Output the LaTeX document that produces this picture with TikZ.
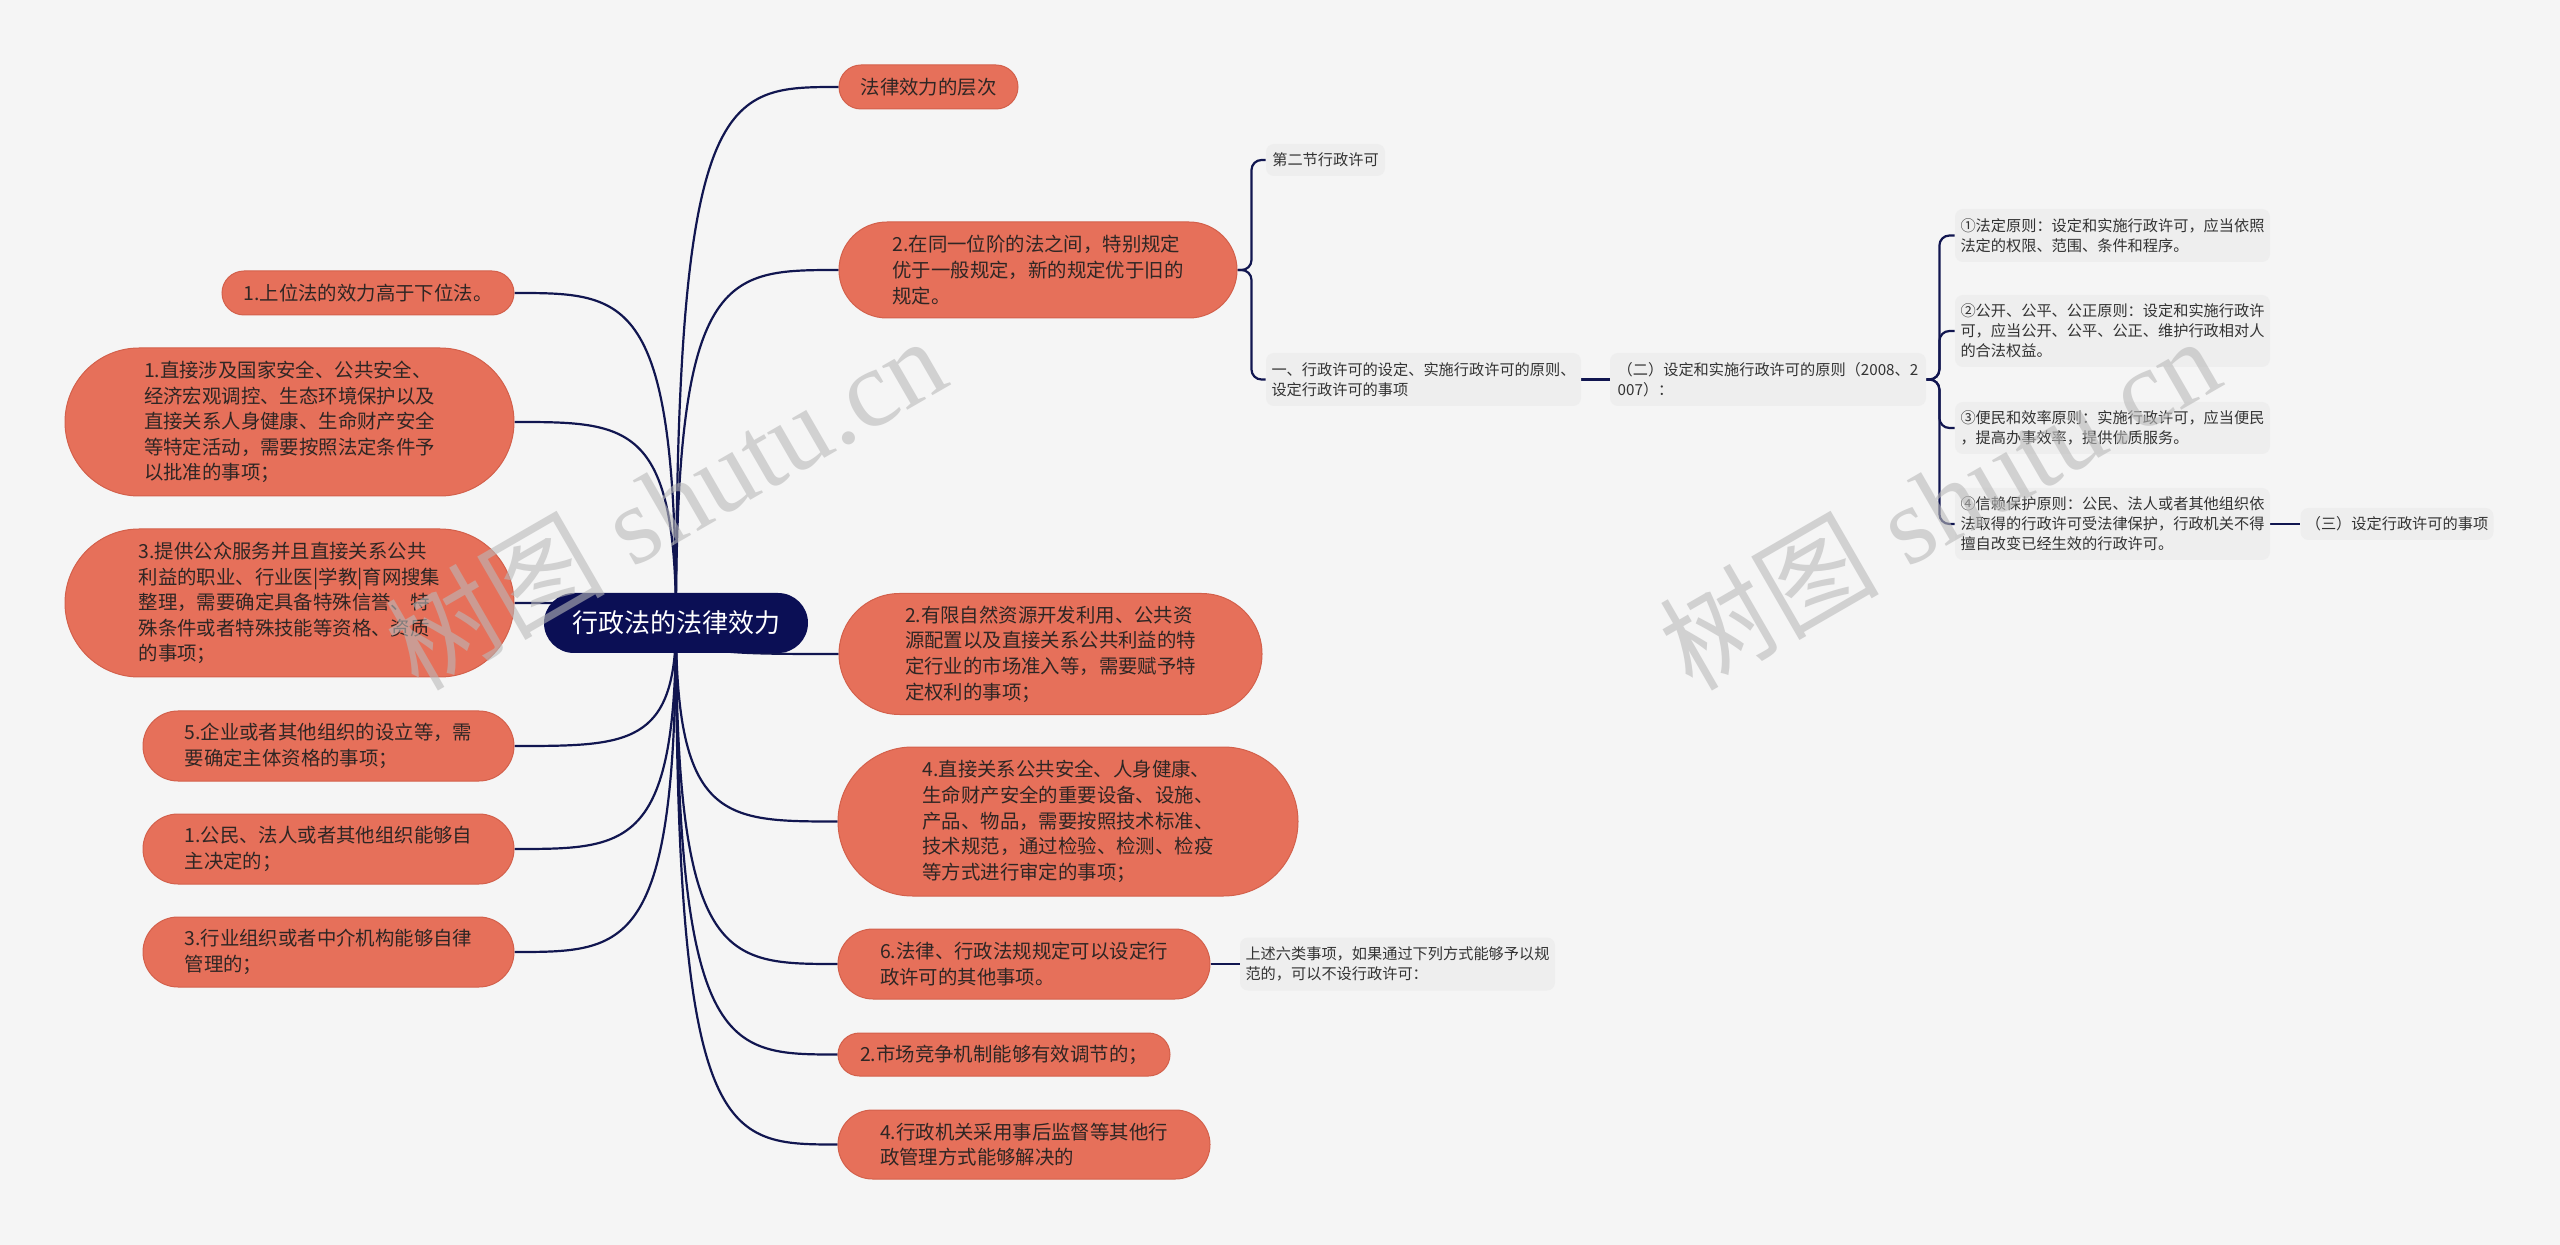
\documentclass[tikz,border=0pt]{standalone}
\usepackage{fontspec}
\setmainfont{Noto Sans CJK SC}
\newfontfamily\wmfont{Liberation Serif}
\newfontfamily\wmcjk{Noto Sans CJK SC}
\usetikzlibrary{calc,shapes.misc}
\definecolor{bgc}{HTML}{F5F5F5}
\definecolor{orf}{HTML}{E6705A}
\definecolor{ord}{HTML}{D3604B}
\definecolor{navy}{HTML}{0B0F55}
\definecolor{lnc}{HTML}{111650}
\definecolor{gyf}{HTML}{EEEEEE}
\definecolor{gyt}{HTML}{333333}
\definecolor{otx}{HTML}{2F2624}
\pgfdeclarelayer{bg}
\pgfdeclarelayer{lines}
\pgfsetlayers{bg,lines,main}
\tikzset{
 sz/.style 2 args={minimum width=#1*0.5pt, minimum height=#2*0.5pt},
 obox/.style={rounded rectangle, fill=orf, draw=ord, line width=0.5pt, inner sep=0pt, align=left, text=otx, font=\fontsize{9.7pt}{12.8pt}\selectfont},
 gbox/.style={rectangle, rounded corners=4pt, fill=gyf, inner sep=0pt, align=left, text=gyt, font=\fontsize{7.6pt}{10pt}\selectfont},
 cbox/.style={rounded rectangle, fill=navy, inner sep=0pt, text=white, font=\fontsize{13pt}{16pt}\selectfont},
 conn/.style={draw=lnc, line width=1.1pt},
 wm/.style={text=gray!55, opacity=0.6, rotate=30, inner sep=0pt, font={\fontsize{55pt}{60pt}\wmfont}}
}
\begin{document}
\begin{tikzpicture}[x=0.5pt,y=-0.5pt]
\begin{pgfonlayer}{bg}
\fill[bgc] (0,0) rectangle (2560,1245);
\end{pgfonlayer}
\useasboundingbox (0,0) rectangle (2560,1245);

% central
\node[cbox, sz={264}{60}] (C) at (676,623) {行政法的法律效力};

% left
\node[obox, sz={292}{44}] (L1) at (368,293) {1.上位法的效力高于下位法。};
\node[obox, sz={449}{148}] (L2) at (289.5,422) {1.直接涉及国家安全、公共安全、\\经济宏观调控、生态环境保护以及\\直接关系人身健康、生命财产安全\\等特定活动，需要按照法定条件予\\以批准的事项；};
\node[obox, sz={449}{148}] (L3) at (289.5,603) {3.提供公众服务并且直接关系公共\\利益的职业、行业医|学教|育网搜集\\整理，需要确定具备特殊信誉、特\\殊条件或者特殊技能等资格、资质\\的事项；};
\node[obox, sz={371}{70}] (L4) at (328.5,746) {5.企业或者其他组织的设立等，需\\要确定主体资格的事项；};
\node[obox, sz={371}{70}] (L5) at (328.5,849) {1.公民、法人或者其他组织能够自\\主决定的；};
\node[obox, sz={371}{70}] (L6) at (328.5,952) {3.行业组织或者中介机构能够自律\\管理的；};

% right
\node[obox, sz={179}{44}] (R1) at (928.5,87) {法律效力的层次};
\node[obox, sz={398}{96}] (R2) at (1038,270) {2.在同一位阶的法之间，特别规定\\优于一般规定，新的规定优于旧的\\规定。};
\node[obox, sz={423}{121}] (R3) at (1050.5,654) {2.有限自然资源开发利用、公共资\\源配置以及直接关系公共利益的特\\定行业的市场准入等，需要赋予特\\定权利的事项；};
\node[obox, sz={460}{149}] (R4) at (1068,821.5) {4.直接关系公共安全、人身健康、\\生命财产安全的重要设备、设施、\\产品、物品，需要按照技术标准、\\技术规范，通过检验、检测、检疫\\等方式进行审定的事项；};
\node[obox, sz={372}{70}] (R5) at (1024,964) {6.法律、行政法规规定可以设定行\\政许可的其他事项。};
\node[obox, sz={332}{43}] (R6) at (1004,1054.5) {2.市场竞争机制能够有效调节的；};
\node[obox, sz={372}{69}] (R7) at (1024,1144.5) {4.行政机关采用事后监督等其他行\\政管理方式能够解决的};

% gray boxes
\node[gbox, sz={119}{32}] (G1) at (1325.5,160) {第二节行政许可};
\node[gbox, sz={315}{53}] (G2) at (1423.5,379.5) {一、行政许可的设定、实施行政许可的原则、\\设定行政许可的事项};
\node[gbox, sz={316}{53}] (G3) at (1768,379.5) {（二）设定和实施行政许可的原则（2008、2\\007）：};
\node[gbox, sz={315}{53}] (G4) at (2112.5,235.5) {①法定原则：设定和实施行政许可，应当依照\\法定的权限、范围、条件和程序。};
\node[gbox, sz={315}{72}] (G5) at (2112.5,331) {②公开、公平、公正原则：设定和实施行政许\\可，应当公开、公平、公正、维护行政相对人\\的合法权益。};
\node[gbox, sz={315}{52}] (G6) at (2112.5,428) {③便民和效率原则：实施行政许可，应当便民\\，提高办事效率，提供优质服务。};
\node[gbox, sz={315}{72}] (G7) at (2112.5,524) {④信赖保护原则：公民、法人或者其他组织依\\法取得的行政许可受法律保护，行政机关不得\\擅自改变已经生效的行政许可。};
\node[gbox, sz={193}{32}] (G8) at (2397,524) {（三）设定行政许可的事项};
\node[gbox, sz={315}{53}] (G9) at (1397.5,964) {上述六类事项，如果通过下列方式能够予以规\\范的，可以不设行政许可：};

% connectors
\begin{pgfonlayer}{lines}
\foreach \n in {R1,R2,R3,R4,R5,R6,R7} {
  \draw[conn] (C.center) .. controls (C.center |- \n.west) and ($(C.center |- \n.west)!0.3!(\n.west)$) .. (\n.west);
}
\foreach \n in {L1,L2,L3,L4,L5,L6} {
  \draw[conn] (C.center) .. controls (C.center |- \n.east) and ($(C.center |- \n.east)!0.3!(\n.east)$) .. (\n.east);
}
\foreach \n in {G1,G2} {
  \draw[conn, rounded corners=5pt] (R2.east) -- ($(R2.east)+(14,0)$) |- (\n.west);
}
\foreach \n in {G4,G5,G6,G7} {
  \draw[conn, rounded corners=5pt] (G3.east) -- ($(G3.east)+(13,0)$) |- (\n.west);
}
\draw[conn] (G2.east) -- (G3.west);
\draw[conn] (G7.east) -- (G8.west);
\draw[conn] (R5.east) -- (G9.west);
\end{pgfonlayer}

% watermarks
\node[wm] (W1) at (665,502) {{\wmcjk 树图} shutu.cn};
\node[wm] (W2) at (1939,502) {{\wmcjk 树图} shutu.cn};
\end{tikzpicture}
\end{document}
